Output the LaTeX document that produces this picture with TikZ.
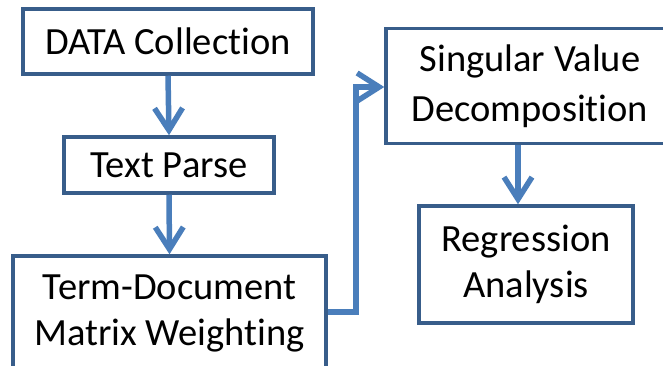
\documentclass[tikz,border=0pt]{standalone}
\usepackage{fontspec}
\setmainfont{Carlito}[Ligatures=NoCommon]
\usetikzlibrary{arrows.meta}
\definecolor{boxc}{HTML}{385D8A}
\definecolor{arrc}{HTML}{4A7EBB}
\begin{document}
\begin{tikzpicture}[x=1pt,y=-1pt,
  box/.style={draw=boxc, line width=3.5pt, fill=white, align=center, inner sep=0pt,
              font=\fontsize{38.5}{46}\selectfont},
  flow/.style={draw=arrc, line width=5.5pt, -{Straight Barb[length=22pt,width=28pt]}}]
\useasboundingbox (0,0) rectangle (663,366);
\node[box, minimum width=290pt, minimum height=65pt] (data) at (168,41.5) {DATA Collection};
\node[box, minimum width=210pt, minimum height=56pt] (parse) at (169,165) {Text Parse};
\node[box, minimum width=313pt, minimum height=114pt] (term) at (169.5,313) {Term-Document\\Matrix Weighting};
\node[box, minimum width=288pt, minimum height=115pt] (svd) at (530,86) {Singular Value\\[4pt]Decomposition};
\node[box, minimum width=214pt, minimum height=117pt] (reg) at (526,264.5) {\raisebox{-3pt}{Regression}\\\raisebox{-3pt}{Analysis}};
\coordinate (c1) at (356,312);
\coordinate (c2) at (356,87);
\coordinate (s1) at (518,0);
\draw[flow] (data.south) -- (parse.north);
\draw[flow] (parse.south) -- (term.north);
\draw[flow] (term.east |- c1) -- (c1) -- (c2) -- (svd.west |- c2);
\draw[flow] (svd.south -| s1) -- (reg.north -| s1);
\end{tikzpicture}
\end{document}
